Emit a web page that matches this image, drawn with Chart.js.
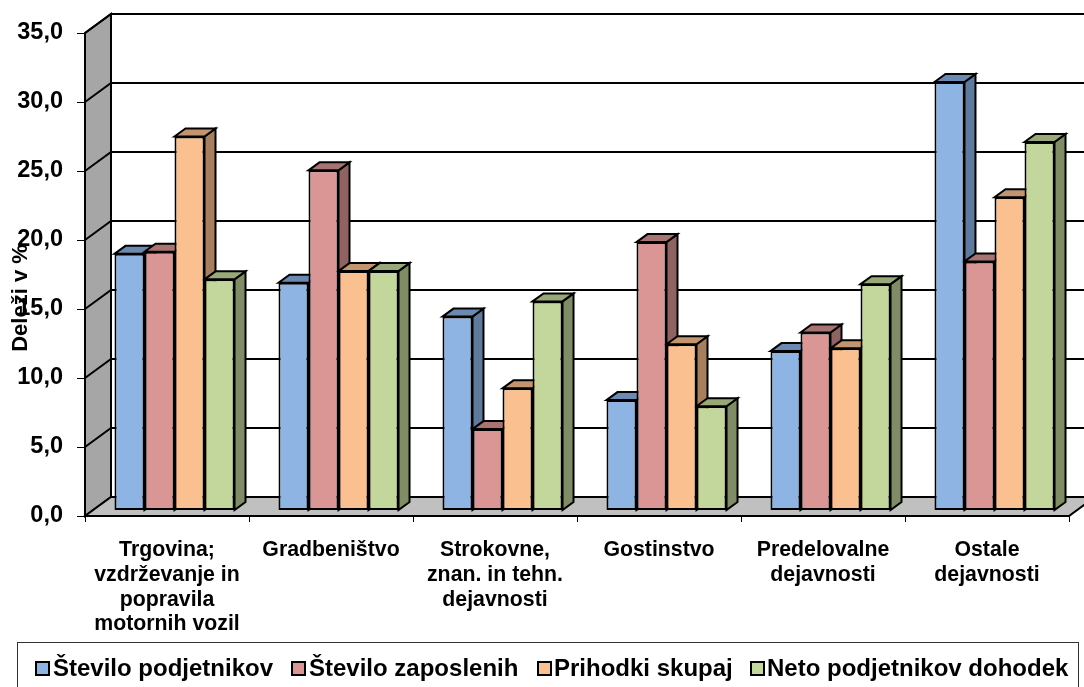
<!DOCTYPE html>
<html>
<head>
<meta charset="utf-8">
<style>
  html, body { margin: 0; padding: 0; background: #fff; overflow: hidden; }
  canvas { display: block; }
</style>
<script src="https://cdn.jsdelivr.net/npm/chart.js@4"></script>
</head>
<body>
<canvas id="chart" width="1084" height="687"></canvas>
<script>
const categories = [
  ['Trgovina;', 'vzdrževanje in', 'popravila', 'motornih vozil'],
  'Gradbeništvo',
  ['Strokovne,', 'znan. in tehn.', 'dejavnosti'],
  'Gostinstvo',
  ['Predelovalne', 'dejavnosti'],
  ['Ostale', 'dejavnosti']
];
const stevPodjetnikov = [18.6, 16.5, 14.05, 8.0, 11.55, 31.05];
const stevZaposlenih = [18.75, 24.65, 5.9, 19.45, 12.9, 18.05];
const prihodkiSkupaj = [27.1, 17.35, 8.85, 12.05, 11.75, 22.7];
const netoDohodek = [16.75, 17.35, 15.15, 7.55, 16.4, 26.7];
const seriesNames = ['Število podjetnikov', 'Število zaposlenih', 'Prihodki skupaj', 'Neto podjetnikov dohodek'];

const FRONT = ['#8DB4E2', '#D99694', '#FAC090', '#C3D69B'];
const TOPS = ['#6C8AB0', '#A87472', '#C29570', '#98A878'];
const SIDES = ['#5F7A9C', '#8F6362', '#A67F5F', '#7F8C65'];
const FONT = '"Liberation Sans", Arial, sans-serif';

// fake 3D: wall depth, how far bars sit in it, and bar depth
const WALL = { dx: 26, dy: -19 };
const BAR_OFFSET = { dx: 7.5, dy: -5.5 };
const BAR_DEPTH = { dx: 11, dy: -8 };

function poly(ctx, pts, fill) {
  ctx.beginPath();
  pts.forEach((p, i) => (i ? ctx.lineTo(p[0], p[1]) : ctx.moveTo(p[0], p[1])));
  ctx.closePath();
  if (fill) { ctx.fillStyle = fill; ctx.fill(); }
  ctx.stroke();
}

const walls3d = {
  id: 'walls3d',
  beforeDatasetsDraw(chart) {
    const { ctx, chartArea: a, scales } = chart;
    const y = scales.y;
    ctx.save();
    ctx.strokeStyle = '#000';
    ctx.lineWidth = 2;
    ctx.lineJoin = 'miter';

    // side wall + floor
    poly(ctx, [[a.left, a.top], [a.left + WALL.dx, a.top + WALL.dy], [a.left + WALL.dx, a.bottom + WALL.dy], [a.left, a.bottom]], '#A6A6A6');
    poly(ctx, [[a.left, a.bottom], [a.right, a.bottom], [a.right + WALL.dx, a.bottom + WALL.dy], [a.left + WALL.dx, a.bottom + WALL.dy]], '#C0C0C0');

    // gridlines, one per tick
    y.ticks.forEach(t => {
      const py = y.getPixelForValue(t.value);
      if (t.value > 0) {
        ctx.beginPath();
        ctx.moveTo(a.left, py);
        ctx.lineTo(a.left + WALL.dx, py + WALL.dy);
        ctx.lineTo(a.right + WALL.dx, py + WALL.dy);
        ctx.stroke();
      }
    });

    // bar sides and tops, left to right so the later ones overlap
    ctx.lineWidth = 2;
    const count = chart.data.labels.length;
    for (let c = 0; c < count; c++) {
      chart.data.datasets.forEach((ds, d) => {
        const el = chart.getDatasetMeta(d).data[c];
        const { x, y: top, base, width } = el.getProps(['x', 'y', 'base', 'width'], true);
        const l = x - width / 2 + BAR_OFFSET.dx;
        const r = x + width / 2 + BAR_OFFSET.dx;
        const t = top + BAR_OFFSET.dy;
        const b = base + BAR_OFFSET.dy;
        poly(ctx, [[r, t], [r + BAR_DEPTH.dx, t + BAR_DEPTH.dy], [r + BAR_DEPTH.dx, b + BAR_DEPTH.dy], [r, b]], SIDES[d]);
        poly(ctx, [[l, t], [l + BAR_DEPTH.dx, t + BAR_DEPTH.dy], [r + BAR_DEPTH.dx, t + BAR_DEPTH.dy], [r, t]], TOPS[d]);
      });
    }
    ctx.restore();

    // the library's own bars go on the plane set back from the axis
    ctx.save();
    ctx.translate(BAR_OFFSET.dx, BAR_OFFSET.dy);
  },
  afterDatasetsDraw(chart) {
    chart.ctx.restore();
  }
};

const extras = {
  id: 'extras',
  afterDraw(chart) {
    const { ctx } = chart;
    ctx.save();

    // y axis title sits over the tick labels
    ctx.translate(21, 298);
    ctx.rotate(-Math.PI / 2);
    ctx.font = 'bold 22px ' + FONT;
    ctx.fillStyle = '#000';
    ctx.textAlign = 'center';
    ctx.textBaseline = 'middle';
    ctx.fillText('Deleži v %', 0, 0);
    ctx.restore();

    // legend
    ctx.save();
    ctx.strokeStyle = '#333';
    ctx.lineWidth = 1;
    ctx.strokeRect(17.5, 642.5, 1061, 60);
    const swatchX = [36, 292, 538, 751];
    const textX = [53, 309, 554, 767];
    ctx.font = 'bold 24px ' + FONT;
    ctx.textAlign = 'left';
    ctx.textBaseline = 'middle';
    seriesNames.forEach((name, i) => {
      ctx.fillStyle = FRONT[i];
      ctx.strokeStyle = '#000';
      ctx.lineWidth = 2;
      ctx.fillRect(swatchX[i], 662, 13, 13);
      ctx.strokeRect(swatchX[i], 662, 13, 13);
      ctx.fillStyle = '#000';
      ctx.fillText(name, textX[i], 669);
    });
    ctx.restore();
  }
};

const seriesValues = [stevPodjetnikov, stevZaposlenih, prihodkiSkupaj, netoDohodek];

new Chart(document.getElementById('chart'), {
  type: 'bar',
  data: {
    labels: categories,
    datasets: seriesValues.map((data, i) => ({
      label: seriesNames[i],
      data,
      backgroundColor: FRONT[i],
      borderColor: '#000',
      borderWidth: 2,
      borderSkipped: false,
      clip: false,
      categoryPercentage: 0.732,
      barPercentage: 1
    }))
  },
  options: {
    responsive: false,
    animation: false,
    layout: { padding: { top: 33, right: 15, left: 0, bottom: 0 } },
    plugins: { legend: { display: false }, tooltip: { enabled: false } },
    scales: {
      x: {
        afterFit(scale) { scale.height = 171; },
        grid: { drawOnChartArea: false, tickLength: 6, color: '#000', lineWidth: 1 },
        border: { display: false },
        ticks: {
          color: '#000',
          padding: 16,
          maxRotation: 0,
          autoSkip: false,
          font: { family: FONT, size: 21.3, weight: 'bold', lineHeight: 1.16 }
        }
      },
      y: {
        min: 0,
        max: 35,
        afterFit(scale) { scale.width = 85; },
        grid: { drawOnChartArea: false, tickLength: 8, color: '#000', lineWidth: 1 },
        border: { display: false },
        ticks: {
          stepSize: 5,
          color: '#000',
          padding: 14,
          font: { family: FONT, size: 23.5, weight: 'bold' },
          callback: v => v.toFixed(1).replace('.', ',')
        }
      }
    }
  },
  plugins: [walls3d, extras]
});
</script>
</body>
</html>
